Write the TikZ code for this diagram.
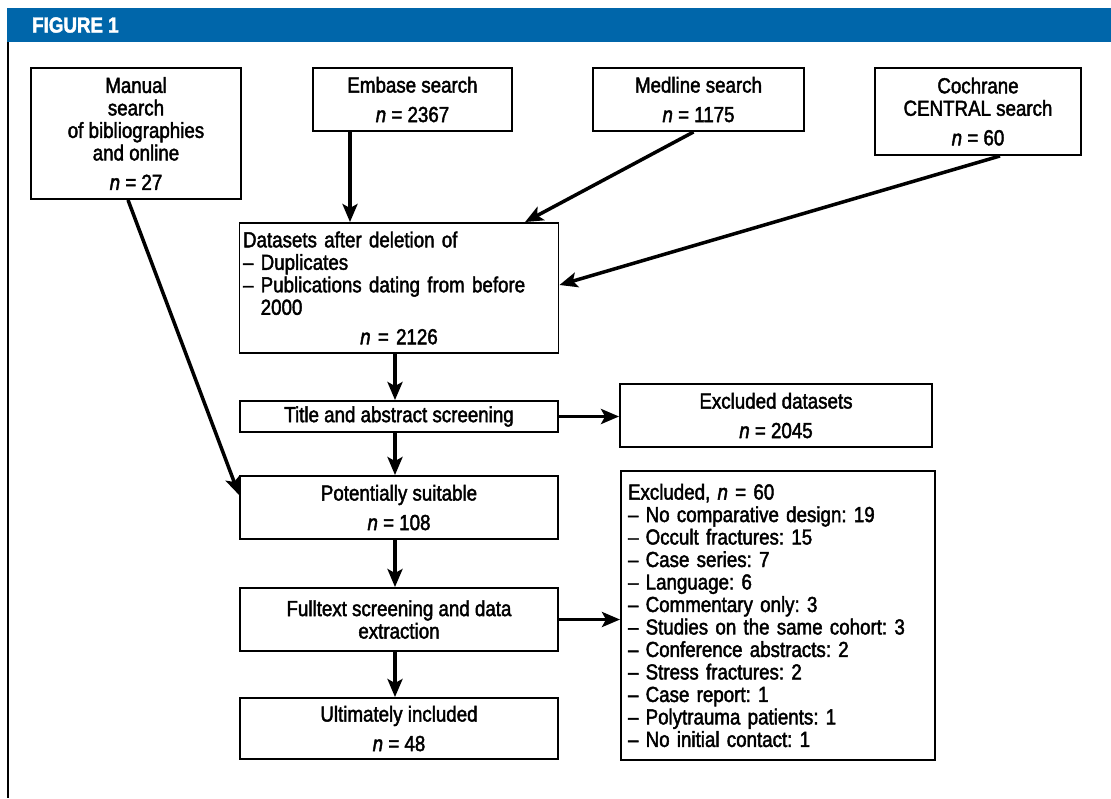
\documentclass[tikz,border=0pt]{standalone}
\usepackage{fontspec}
\setmainfont{Liberation Sans}[FakeStretch=0.86, FakeBold=2]
\usepackage{xcolor}
\usetikzlibrary{arrows.meta, positioning}
\definecolor{figblue}{RGB}{0,102,170}

\begin{document}
\frenchspacing
\begin{tikzpicture}[x=0.02cm, y=-0.02cm,
    box/.style={rectangle, draw=black, line width=1.1pt, align=center, inner sep=2pt,
      font=\fontsize{12.4}{12.8}\selectfont},
    listbox/.style={box, align=left, anchor=north west, inner sep=4pt},
    line/.style={draw=black, line width=2pt, -{Stealth[length=3.6mm, width=3mm, inset=0.8mm]}}
]
    \useasboundingbox (0,0) rectangle (1111,798);
    % Header
    \fill[figblue] (7,8) rectangle (1111,42);
    \node (title) [anchor=west, text=white, font=\fontsize{12.4}{13}\selectfont\bfseries] at (26,25) {FIGURE 1};
    \draw[line width=1.2pt] (8,42) -- (8,798);

    % Nodes
    \node (manual) [box, minimum width=4.2cm, minimum height=2.62cm] at (136,133.5)
      {Manual\\search\\of bibliographies\\and online\\[4pt]\textit{n} = 27};
    \node (embase) [box, minimum width=3.98cm, minimum height=1.26cm] at (412.5,99.5)
      {Embase search\\[4pt]\textit{n} = 2367};
    \node (medline) [box, minimum width=4.22cm, minimum height=1.26cm] at (698.5,99.5)
      {Medline search\\[4pt]\textit{n} = 1175};
    \node (cochrane) [box, minimum width=4.12cm, minimum height=1.74cm] at (978,111.5)
      {Cochrane\\CENTRAL search\\[4pt]\textit{n} = 60};
    \node (datasets) [box, text width=6.24cm, align=left, minimum height=2.6cm] at (399,288)
      {Datasets after deletion of\\--~Duplicates\\--~Publications dating from before\\\hphantom{--~}2000\\[4pt]
       \makebox[\linewidth]{\textit{n} = 2126}};
    \node (screen) [box, minimum width=6.36cm, minimum height=0.62cm] at (399,416.5)
      {Title and abstract screening};
    \node (excl1) [box, minimum width=6.24cm, minimum height=1.26cm] at (776,415.5)
      {Excluded datasets\\[4pt]\textit{n} = 2045};
    \node (suitable) [box, minimum width=6.36cm, minimum height=1.26cm] at (399,507.5)
      {Potentially suitable\\[4pt]\textit{n} = 108};
    \node (excl2) [listbox, text width=6.0cm, minimum height=5.78cm] at (620,470)
      {Excluded, \textit{n} = 60\\
       -- No comparative design: 19\\
       -- Occult fractures: 15\\
       -- Case series: 7\\
       -- Language: 6\\
       -- Commentary only: 3\\
       -- Studies on the same cohort: 3\\
       -- Conference abstracts: 2\\
       -- Stress fractures: 2\\
       -- Case report: 1\\
       -- Polytrauma patients: 1\\
       -- No initial contact: 1};
    \node (fulltext) [box, minimum width=6.36cm, minimum height=1.26cm] at (399,619.5)
      {Fulltext screening and data\\extraction};
    \node (included) [box, minimum width=6.36cm, minimum height=1.22cm] at (399,728.5)
      {Ultimately included\\[4pt]\textit{n} = 48};

    % Arrows
    \draw [line] (embase.south -| 350,0) -- (datasets.north -| 350,0);
    \draw [line] ([xshift=-0.1cm]medline.south) -- (datasets.north -| 525,0);
    \draw [line] ([xshift=0.44cm]cochrane.south) -- (datasets.east |- 0,285);
    \draw [line] (manual.south -| 128,0) -- (suitable.north west |- 0,495);
    \draw [line] (datasets.south -| 395,0) -- (screen.north -| 395,0);
    \draw [line] (screen.east) -- (excl1.west |- screen.east);
    \draw [line] (screen.south -| 395,0) -- (suitable.north -| 395,0);
    \draw [line] (suitable.south -| 395,0) -- (fulltext.north -| 395,0);
    \draw [line] (fulltext.east) -- (excl2.west |- fulltext.east);
    \draw [line] (fulltext.south -| 395,0) -- (included.north -| 395,0);
\end{tikzpicture}
\end{document}
